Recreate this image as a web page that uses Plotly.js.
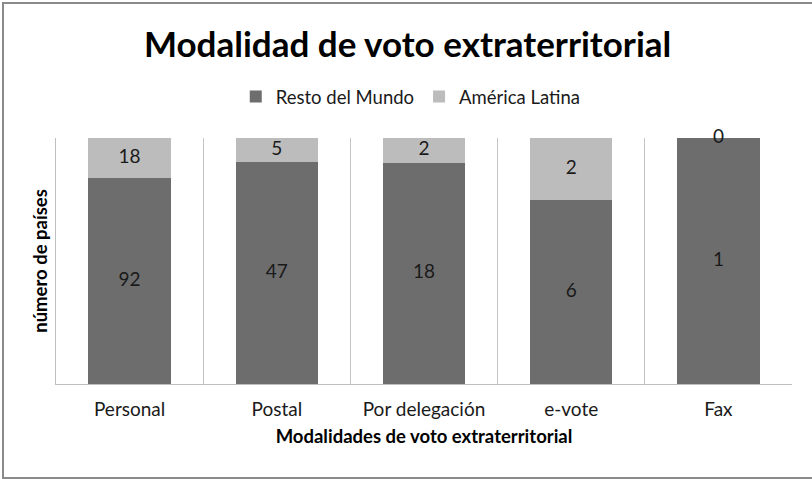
<!DOCTYPE html>
<html>
<head>
<meta charset="utf-8">
<script src="https://cdn.plot.ly/plotly-3.0.1.min.js"></script>
<style>html,body{margin:0;padding:0;background:#fff;}#chart{width:812px;height:479px;}</style>
</head>
<body>
<div id="chart"></div>
<script>
var categories = ["Personal", "Postal", "Por delegación", "e-vote", "Fax"];
var restoMundo = [92, 47, 18, 6, 1];
var americaLatina = [18, 5, 2, 2, 0];

var FONT = "Lato, 'Open Sans', sans-serif";
var totals = restoMundo.map(function (v, i) { return v + americaLatina[i]; });
var restoMid = restoMundo.map(function (v, i) { return v / totals[i] * 50; });
var latMid = americaLatina.map(function (v, i) { return (restoMundo[i] + v / 2) / totals[i] * 100; });

var traces = [
  {type: "bar", name: "Resto del Mundo", x: categories, y: restoMundo,
   marker: {color: "#6d6d6d"}, hoverinfo: "skip"},
  {type: "bar", name: "América Latina", x: categories, y: americaLatina,
   marker: {color: "#bcbcbc"}, hoverinfo: "skip"},
  {type: "scatter", mode: "text", x: categories, y: restoMid, text: restoMundo.map(String),
   textfont: {family: FONT, size: 19, color: "#1a1a1a"}, showlegend: false, hoverinfo: "skip"},
  {type: "scatter", mode: "text", x: categories, y: latMid, text: americaLatina.map(String),
   textfont: {family: FONT, size: 19, color: "#1a1a1a"}, showlegend: false, hoverinfo: "skip", cliponaxis: false}
];

var layout = {
  width: 812, height: 479,
  margin: {l: 56, r: 20, t: 138, b: 95},
  paper_bgcolor: "#ffffff", plot_bgcolor: "#ffffff",
  barmode: "stack", barnorm: "percent", bargap: 0.44,
  font: {family: FONT, color: "#1a1a1a"},
  title: {text: "<b>Modalidad de voto extraterritorial</b>", font: {family: FONT, size: 35, color: "#000"},
          x: 0.502, xanchor: "center", xref: "container", y: 0.906, yanchor: "middle"},
  showlegend: true,
  legend: {orientation: "h", x: 0.482, xanchor: "center", y: 1.167, yanchor: "middle",
           font: {family: FONT, size: 18.5, color: "#1a1a1a"}, traceorder: "normal", itemwidth: 30},
  xaxis: {type: "category", range: [-0.5, 4.5], tickson: "boundaries", ticks: "",
          showgrid: true, gridcolor: "#c4c4c4", gridwidth: 1,
          showline: true, linecolor: "#bfbfbf", linewidth: 1,
          tickfont: {family: FONT, size: 19, color: "#1a1a1a"}, ticklabelstandoff: 8,
          title: {text: "<b>Modalidades de voto extraterritorial</b>", font: {family: FONT, size: 18.5, color: "#000"}, standoff: 11},
          fixedrange: true},
  yaxis: {range: [0, 100], showticklabels: false, ticks: "", showgrid: false, zeroline: false,
          showline: true, linecolor: "#bfbfbf", linewidth: 1,
          title: {text: "<b>número de países</b>", font: {family: FONT, size: 18.5, color: "#000"}, standoff: 2},
          fixedrange: true},
  shapes: [
    {type: "rect", xref: "paper", yref: "paper", x0: -0.072, x1: 1.03, y0: -0.382, y1: 1.549,
     line: {color: "#8a8a8a", width: 2}, fillcolor: "rgba(0,0,0,0)", layer: "below"}
  ]
};

Plotly.newPlot("chart", traces, layout, {staticPlot: true, displayModeBar: false});
</script>
</body>
</html>
